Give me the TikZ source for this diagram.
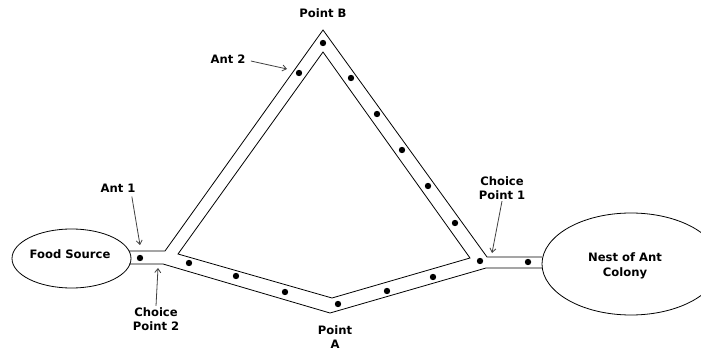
\documentclass[tikz,border=0pt]{standalone}
\usepackage{fontspec}
\setmainfont{DejaVu Sans}
\usetikzlibrary{arrows.meta,shapes.geometric}

\begin{document}
\begin{tikzpicture}[x=1pt, y=-1pt, line width=0.8pt,
    every node/.style={font=\bfseries\fontsize{11.6}{14.5}\selectfont, align=center, inner sep=1pt},
    place/.style={draw, ellipse, inner sep=0pt},
    pointer/.style={black!75, -{Straight Barb[length=4pt, width=6pt]}},
    ant/.style={black}]
  \clip (0,0) rectangle (701,352);

  % Food source and nest
  \node[place, minimum width=119pt, minimum height=59pt] (food) at (71.5,258.5) {};
  \node[place, minimum width=178pt, minimum height=102pt] (nest) at (631,264) {};
  \node (foodtext) at (70,254) {Food Source};
  \node (nesttext) at (625,266) {Nest of Ant\\Colony};

  % Outer edges of the trail
  \draw (129,251) -- (165,251) -- (323,30) -- (487,257) -- (542,257);
  \draw (129,264) -- (163,264) -- (330,313) -- (486,268) -- (542,268);

  % Inner edge of the loop
  \draw (178,254) -- (323,52) -- (470,258) -- (332,298) -- cycle;

  % Ants on the trail
  \foreach \x/\y in {140/258, 189/263, 236/276, 285/292, 338/304, 387/291,
      433/277, 480/261, 528/262, 323/43, 299/73, 351/78, 377/114, 402/150,
      428/186, 455/223}
    \fill[ant] (\x,\y) circle (3.2);

  % Labels
  \node (pointB) at (323,13) {Point B};
  \node (pointA) at (335,337) {Point\\A};
  \node (ant1) at (118,188) {Ant 1};
  \node (ant2) at (228,59) {Ant 2};
  \node (cp1) at (502,188) {Choice\\Point 1};
  \node (cp2) at (156,319) {Choice\\Point 2};

  % Arrow targets
  \coordinate (ant1tip) at (140,245);
  \coordinate (ant2tip) at (287,69);
  \coordinate (cp1tip) at (492,253);
  \coordinate (cp2tip) at (158,268);

  \draw[pointer] ([xshift=-5pt, yshift=-3pt]ant1.south east) -- (ant1tip);
  \draw[pointer] ([xshift=4pt, yshift=-2pt]ant2.east) -- (ant2tip);
  \draw[pointer] (cp1.south) -- (cp1tip);
  \draw[pointer] (cp2.north) -- (cp2tip);
\end{tikzpicture}
\end{document}
